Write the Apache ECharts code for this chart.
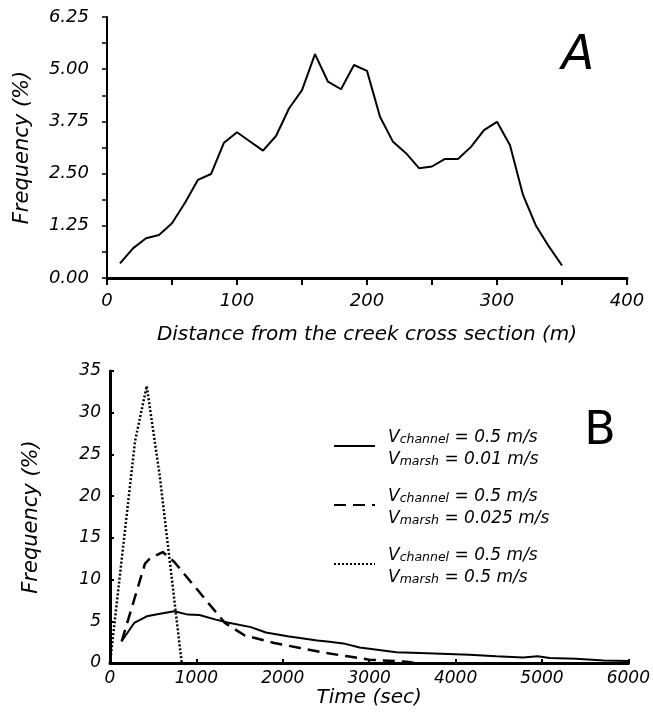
<!DOCTYPE html>
<html>
<head>
<meta charset="utf-8">
<script src="https://cdn.jsdelivr.net/npm/echarts@6/dist/echarts.min.js"></script>
<style>
html, body { margin: 0; padding: 0; background: #fff; }
#main { width: 653px; height: 719px; }
</style>
</head>
<body>
<div id="main"></div>
<script>
// panel A: distance from creek (m) vs frequency (%)
var distance = [10, 20, 30, 40, 50, 60, 70, 80, 90, 100, 110, 120, 130, 140, 150, 160, 170, 180,
    190, 200, 210, 220, 230, 240, 250, 260, 270, 280, 290, 300, 310, 320, 330, 340, 350];
var freqA = [0.35, 0.71, 0.95, 1.03, 1.31, 1.80, 2.35, 2.49, 3.24, 3.49, 3.27, 3.05, 3.40, 4.06, 4.50,
    5.36, 4.70, 4.52, 5.10, 4.96, 3.86, 3.26, 2.99, 2.63, 2.67, 2.85, 2.85, 3.14, 3.54, 3.74, 3.18,
    1.99, 1.25, 0.75, 0.30];

// panel B: travel time (sec) vs frequency (%)
var timeSlow = [135, 280, 425, 580, 745, 900, 1035, 1225, 1360, 1630, 1805, 2055, 2400, 2540, 2700,
    2890, 3315, 3585, 4160, 4470, 4780, 4950, 5090, 5395, 5715, 6000];
var freqSlow = [2.6, 4.8, 5.6, 5.9, 6.2, 5.8, 5.75, 5.2, 4.85, 4.3, 3.65, 3.2, 2.7, 2.55, 2.35,
    1.85, 1.3, 1.2, 1.0, 0.8, 0.65, 0.8, 0.6, 0.5, 0.3, 0.25];
var timeMid = [135, 405, 460, 610, 745, 1330, 1560, 1900, 2200, 2500, 2750, 3000, 3430, 3550];
var freqMid = [2.6, 11.9, 12.5, 13.3, 12.1, 4.8, 3.3, 2.4, 1.8, 1.2, 0.8, 0.4, 0.15, 0];
var timeFast = [0, 290, 425, 575, 830];
var freqFast = [0, 26.6, 33.2, 22.5, 0];

var seriesNames = ['slow', 'mid', 'fast'];
var vChannel = ['0.5 m/s', '0.5 m/s', '0.5 m/s'];
var vMarsh = ['0.01 m/s', '0.025 m/s', '0.5 m/s'];

function zip(xs, ys) {
    var out = [];
    for (var i = 0; i < xs.length; i++) {
        out.push([xs[i], ys[i]]);
    }
    return out;
}

var font = 'DejaVu Sans';
var labelStyle = { color: '#000', fontFamily: font, fontStyle: 'italic' };

var myChart = echarts.init(document.getElementById('main'));

var option = {
    animation: false,
    backgroundColor: '#fff',
    grid: [
        { left: 107, right: 26, top: 17, height: 261 },
        { left: 110, right: 24, top: 371, height: 292 }
    ],
    xAxis: [
        {
            gridIndex: 0, type: 'value', min: 0, max: 400, interval: 50,
            name: 'Distance from the creek cross section (m)',
            nameLocation: 'middle', nameGap: 47,
            nameTextStyle: Object.assign({ fontSize: 20 }, labelStyle),
            axisLine: { lineStyle: { color: '#000', width: 3 } },
            axisTick: { length: 7, lineStyle: { color: '#000', width: 2 } },
            axisLabel: Object.assign({
                fontSize: 18, margin: 14,
                formatter: function (v) { return v % 100 === 0 ? String(v) : ''; }
            }, labelStyle),
            splitLine: { show: false }
        },
        {
            gridIndex: 1, type: 'value', min: 0, max: 6000, interval: 1000,
            name: 'Time (sec)',
            nameLocation: 'middle', nameGap: 25,
            nameTextStyle: Object.assign({ fontSize: 20 }, labelStyle),
            axisLine: { lineStyle: { color: '#000', width: 3 } },
            axisTick: { inside: true, length: 4, lineStyle: { color: '#000', width: 2 } },
            axisLabel: Object.assign({
                fontSize: 17, margin: 7,
                formatter: function (v) { return String(v); }
            }, labelStyle),
            splitLine: { show: false }
        }
    ],
    yAxis: [
        {
            gridIndex: 0, type: 'value', min: 0, max: 6.25, interval: 0.625,
            name: 'Frequency (%)',
            nameLocation: 'middle', nameGap: 74,
            nameTextStyle: Object.assign({ fontSize: 21 }, labelStyle),
            axisLine: { show: true, lineStyle: { color: '#000', width: 2 } },
            axisTick: { show: true, length: 5, lineStyle: { color: '#000', width: 1.5 } },
            axisLabel: Object.assign({
                fontSize: 18, margin: 18,
                formatter: function (v) {
                    return Math.abs(v / 1.25 - Math.round(v / 1.25)) < 1e-6 ? v.toFixed(2) : '';
                }
            }, labelStyle),
            splitLine: { show: false }
        },
        {
            gridIndex: 1, type: 'value', min: 0, max: 35, interval: 5,
            name: 'Frequency (%)',
            nameLocation: 'middle', nameGap: 68,
            nameTextStyle: Object.assign({ fontSize: 21 }, labelStyle),
            axisLine: { show: true, lineStyle: { color: '#000', width: 3 } },
            axisTick: { show: true, inside: true, length: 4, lineStyle: { color: '#000', width: 2 } },
            axisLabel: Object.assign({ fontSize: 17, margin: 9 }, labelStyle),
            splitLine: { show: false }
        }
    ],
    legend: {
        data: seriesNames,
        orient: 'vertical',
        left: 333,
        top: 429,
        padding: 0,
        itemWidth: 41,
        itemHeight: 14,
        itemGap: 20,
        itemStyle: { color: 'rgba(0,0,0,0)', opacity: 0, borderWidth: 0 },
        formatter: function (name) {
            var i = seriesNames.indexOf(name);
            return '{v|V}{s|channel}{v| = ' + vChannel[i] + '}\n{v|V}{s|marsh}{v| = ' + vMarsh[i] + '}';
        },
        textStyle: {
            padding: [0, 0, 0, 8],
            rich: {
                v: { fontFamily: font, fontStyle: 'italic', fontSize: 17, color: '#000', lineHeight: 22, verticalAlign: 'bottom' },
                s: { fontFamily: font, fontStyle: 'italic', fontSize: 12.5, color: '#000', lineHeight: 22, verticalAlign: 'bottom' }
            }
        }
    },
    graphic: [
        {
            type: 'text', x: 578, y: 57,
            style: { text: 'A', fontFamily: font, fontStyle: 'italic', fontSize: 48, fill: '#000', align: 'center', verticalAlign: 'middle' }
        },
        {
            type: 'text', x: 600, y: 432,
            style: { text: 'B', fontFamily: font, fontSize: 46, fill: '#000', align: 'center', verticalAlign: 'middle' }
        }
    ],
    series: [
        {
            type: 'line', xAxisIndex: 0, yAxisIndex: 0,
            data: zip(distance, freqA),
            symbol: 'none',
            lineStyle: { color: '#000', width: 2 }
        },
        {
            name: 'slow', type: 'line', xAxisIndex: 1, yAxisIndex: 1,
            data: zip(timeSlow, freqSlow),
            symbol: 'none',
            itemStyle: { color: '#000' },
            lineStyle: { color: '#000', width: 2 }
        },
        {
            name: 'mid', type: 'line', xAxisIndex: 1, yAxisIndex: 1,
            data: zip(timeMid, freqMid),
            symbol: 'none',
            itemStyle: { color: '#000' },
            lineStyle: { color: '#000', width: 2.5, type: [12, 7] }
        },
        {
            name: 'fast', type: 'line', xAxisIndex: 1, yAxisIndex: 1,
            data: zip(timeFast, freqFast),
            symbol: 'none',
            itemStyle: { color: '#000' },
            lineStyle: { color: '#000', width: 2.5, type: [2, 2] }
        }
    ]
};

myChart.setOption(option);
</script>
</body>
</html>
